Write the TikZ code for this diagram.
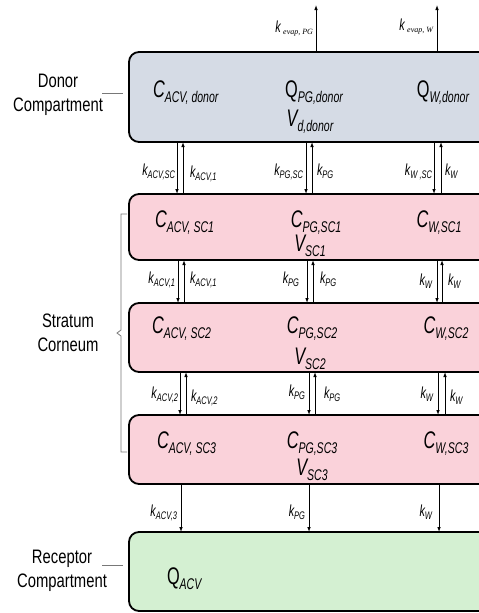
\documentclass[tikz,border=0pt]{standalone}
\usepackage{fontspec}
\setmainfont{Liberation Sans}[FakeStretch=0.76]
\newfontfamily\cf{Liberation Sans}[FakeStretch=0.68]
\newfontfamily\evf{Liberation Serif}
\usetikzlibrary{arrows.meta}
\definecolor{donorc}{RGB}{213,219,229}
\definecolor{scc}{RGB}{250,210,218}
\definecolor{recc}{RGB}{212,240,210}
\definecolor{bracec}{RGB}{120,120,120}
\newcommand\BT[2]{{\cf\fontsize{24}{26}\selectfont #1}\raisebox{-5pt}{\cf\fontsize{15.5}{17}\selectfont\itshape #2}}
\newcommand\KL[1]{{\cf\fontsize{16}{18}\selectfont\itshape k}\raisebox{-3pt}{\cf\fontsize{11}{12}\selectfont\itshape #1}}
\newcommand\KE[1]{{\cf\fontsize{16}{18}\selectfont\itshape k}\hspace{2.5pt}\raisebox{-2.5pt}{\fontsize{8}{9}\selectfont\evf\itshape #1}}
\begin{document}
\begin{tikzpicture}[x=1pt,y=-1pt,
 box/.style={draw=black, line width=1.8pt, rounded corners=10pt, minimum width=380pt, anchor=north west, inner sep=0pt, outer sep=0pt},
 txt/.style={inner sep=0pt, outer sep=0pt},
 side/.style={align=center, inner sep=0pt, font=\fontsize{19.5}{24}\selectfont},
 arr/.style={line width=0.9pt, -{Latex[length=5pt,width=3.6pt]}},
 tickline/.style={line width=0.8pt, draw=bracec}
]
\useasboundingbox (0,0) rectangle (479,613);
% boxes
\node[box, fill=donorc, minimum height=90pt] (donor) at (129,52) {};
\node[box, fill=scc, minimum height=66pt] (sc1) at (129,194) {};
\node[box, fill=scc, minimum height=69pt] (sc2) at (129,303) {};
\node[box, fill=scc, minimum height=69pt] (sc3) at (129,415) {};
\node[box, fill=recc, minimum height=79pt] (rec) at (129,532) {};
% side labels
\node[side] (dlab) at (58,95) {Donor\\Compartment};
\node[side] (slab) at (68,333) {Stratum\\Corneum};
\node[side] (rlab) at (62,571) {Receptor\\Compartment};
\coordinate (dl1) at (102,93); \coordinate (dl2) at (123,93);
\coordinate (rl1) at (102,565); \coordinate (rl2) at (123,565);
\draw[tickline] (dl1) -- (dl2);
\draw[tickline] (rl1) -- (rl2);
\coordinate (b1) at (127,214); \coordinate (b2) at (121,214);
\coordinate (b3) at (121,330); \coordinate (b4) at (117,333);
\coordinate (b5) at (121,336); \coordinate (b6) at (121,452);
\coordinate (b7) at (127,452);
\draw[tickline] (b1) -- (b2) -- (b3) -- (b4) -- (b5) -- (b6) -- (b7);
% donor texts
\node[txt, anchor=base west] (d1) at (153,97) {\BT{\itshape C}{ACV, donor}};
\node[txt, anchor=base] (d2) at (314,97) {\BT{Q}{PG,donor}};
\node[txt, anchor=base] (d3) at (310,126) {\BT{\itshape V}{d,donor}};
\node[txt, anchor=base] (d4) at (443,97) {\BT{Q}{W,donor}};
% SC1
\node[txt, anchor=base west] (s11) at (155,227) {\BT{\itshape C}{ACV, SC1}};
\node[txt, anchor=base] (s12) at (316,227) {\BT{\itshape C}{PG,SC1}};
\node[txt, anchor=base] (s13) at (310,251) {\BT{\itshape V}{SC1}};
\node[txt, anchor=base] (s14) at (439,227) {\BT{\itshape C}{W,SC1}};
% SC2
\node[txt, anchor=base west] (s21) at (152,333) {\BT{\itshape C}{ACV, SC2}};
\node[txt, anchor=base] (s22) at (312,333) {\BT{\itshape C}{PG,SC2}};
\node[txt, anchor=base] (s23) at (310,364) {\BT{\itshape V}{SC2}};
\node[txt, anchor=base] (s24) at (446,333) {\BT{\itshape C}{W,SC2}};
% SC3
\node[txt, anchor=base west] (s31) at (157,448) {\BT{\itshape C}{ACV, SC3}};
\node[txt, anchor=base] (s32) at (312,448) {\BT{\itshape C}{PG,SC3}};
\node[txt, anchor=base] (s33) at (312,475) {\BT{\itshape V}{SC3}};
\node[txt, anchor=base] (s34) at (446,448) {\BT{\itshape C}{W,SC3}};
% receptor
\node[txt, anchor=base west] (r1) at (167,584) {\BT{Q}{ACV}};
% arrow columns
\coordinate (top) at (0,5);
\coordinate (e1) at (316,0); \coordinate (e2) at (437,0);
\draw[arr] (e1 |- donor.north) -- (e1 |- top);
\draw[arr] (e2 |- donor.north) -- (e2 |- top);
\node[txt, anchor=base east] (ke1) at (313,32) {\KE{evap, PG}};
\node[txt, anchor=base east] (ke2) at (433,30) {\KE{evap, W}};
% gap 1
\coordinate (g1a) at (177,0); \coordinate (g1b) at (183,0);
\coordinate (g1c) at (306,0); \coordinate (g1d) at (312,0);
\coordinate (g1e) at (434,0); \coordinate (g1f) at (441,0);
\draw[arr] (g1a |- donor.south) -- (g1a |- sc1.north);
\draw[arr] (g1b |- sc1.north) -- (g1b |- donor.south);
\draw[arr] (g1c |- donor.south) -- (g1c |- sc1.north);
\draw[arr] (g1d |- sc1.north) -- (g1d |- donor.south);
\draw[arr] (g1e |- donor.south) -- (g1e |- sc1.north);
\draw[arr] (g1f |- sc1.north) -- (g1f |- donor.south);
\node[txt, anchor=base east] at (175,175) {\KL{ACV,SC}};
\node[txt, anchor=base west] at (190,177) {\KL{ACV,1}};
\node[txt, anchor=base east] at (303,175) {\KL{PG,SC}};
\node[txt, anchor=base west] at (317,175) {\KL{PG}};
\node[txt, anchor=base east] at (432,175) {\KL{W ,SC}};
\node[txt, anchor=base west] at (445,175) {\KL{W}};
% gap 2
\coordinate (g2a) at (178,0); \coordinate (g2b) at (184,0);
\coordinate (g2c) at (307,0); \coordinate (g2d) at (313,0);
\coordinate (g2e) at (437,0); \coordinate (g2f) at (442,0);
\draw[arr] (g2a |- sc1.south) -- (g2a |- sc2.north);
\draw[arr] (g2b |- sc2.north) -- (g2b |- sc1.south);
\draw[arr] (g2c |- sc1.south) -- (g2c |- sc2.north);
\draw[arr] (g2d |- sc2.north) -- (g2d |- sc1.south);
\draw[arr] (g2e |- sc1.south) -- (g2e |- sc2.north);
\draw[arr] (g2f |- sc2.north) -- (g2f |- sc1.south);
\node[txt, anchor=base east] at (175,283) {\KL{ACV,1}};
\node[txt, anchor=base west] at (190,283) {\KL{ACV,1}};
\node[txt, anchor=base east] at (299,283) {\KL{PG}};
\node[txt, anchor=base west] at (320,283) {\KL{PG}};
\node[txt, anchor=base east] at (432,285) {\KL{W}};
\node[txt, anchor=base west] at (448,285) {\KL{W}};
% gap 3
\coordinate (g3a) at (180,0); \coordinate (g3b) at (186,0);
\coordinate (g3c) at (309,0); \coordinate (g3d) at (315,0);
\coordinate (g3e) at (438,0); \coordinate (g3f) at (445,0);
\draw[arr] (g3a |- sc2.south) -- (g3a |- sc3.north);
\draw[arr] (g3b |- sc3.north) -- (g3b |- sc2.south);
\draw[arr] (g3c |- sc2.south) -- (g3c |- sc3.north);
\draw[arr] (g3d |- sc3.north) -- (g3d |- sc2.south);
\draw[arr] (g3e |- sc2.south) -- (g3e |- sc3.north);
\draw[arr] (g3f |- sc3.north) -- (g3f |- sc2.south);
\node[txt, anchor=base east] at (178,398) {\KL{ACV,2}};
\node[txt, anchor=base west] at (191,401) {\KL{ACV,2}};
\node[txt, anchor=base east] at (305,396) {\KL{PG}};
\node[txt, anchor=base west] at (324,398) {\KL{PG}};
\node[txt, anchor=base east] at (433,398) {\KL{W}};
\node[txt, anchor=base west] at (450,401) {\KL{W}};
% gap 4
\coordinate (g4a) at (181,0); \coordinate (g4c) at (309,0); \coordinate (g4e) at (439,0);
\draw[arr] (g4a |- sc3.south) -- (g4a |- rec.north);
\draw[arr] (g4c |- sc3.south) -- (g4c |- rec.north);
\draw[arr] (g4e |- sc3.south) -- (g4e |- rec.north);
\node[txt, anchor=base east] at (177,516) {\KL{ACV,3}};
\node[txt, anchor=base east] at (305,516) {\KL{PG}};
\node[txt, anchor=base east] at (432,516) {\KL{W}};
\end{tikzpicture}
\end{document}
